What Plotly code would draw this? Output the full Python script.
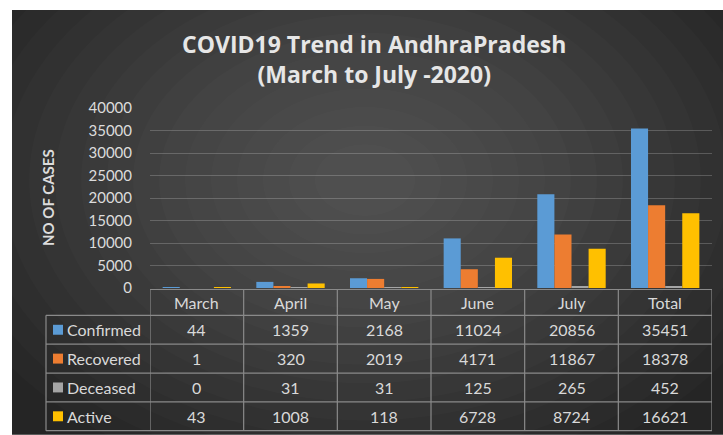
import plotly.graph_objects as go

categories = ["March", "April", "May", "June", "July", "Total"]
confirmed = [44, 1359, 2168, 11024, 20856, 35451]
recovered = [1, 320, 2019, 4171, 11867, 18378]
deceased = [0, 31, 31, 125, 265, 452]
active = [43, 1008, 118, 6728, 8724, 16621]
series_names = ["Confirmed", "Recovered", "Deceased", "Active"]
series_values = [confirmed, recovered, deceased, active]
series_colors = ["#5B9BD5", "#ED7D31", "#A5A5A5", "#FFC000"]
y_ticks = [0, 5000, 10000, 15000, 20000, 25000, 30000, 35000, 40000]

W, H = 723, 435
L, R, T, B = 150, 712, 107.5, 288.5
PW, PH = R - L, B - T


def xp(px):
    return (px - L) / PW


def yp(py):
    return (B - py) / PH


fig = go.Figure()
for name, vals, col in zip(series_names, series_values, series_colors):
    fig.add_trace(go.Bar(x=categories, y=vals, name=name, marker=dict(color=col, line=dict(width=0))))

shapes = []
# dark background with soft radial light
shapes.append(dict(type="rect", xref="paper", yref="paper", x0=xp(12), x1=xp(723), y0=yp(9), y1=yp(436),
                   fillcolor="#252525", line=dict(width=0), layer="below"))
cx, cy = 365, 180
for i in range(16):
    rx = 440 - i * 26
    ry = rx * 0.72
    shapes.append(dict(type="circle", xref="paper", yref="paper",
                       x0=xp(cx - rx), x1=xp(cx + rx), y0=yp(cy + ry), y1=yp(cy - ry),
                       fillcolor="rgba(255,255,255,0.014)", line=dict(width=0), layer="below"))
# cover outside margin white (left and top strips)
shapes.append(dict(type="rect", xref="paper", yref="paper", x0=xp(-5), x1=xp(12), y0=yp(-5), y1=yp(440),
                   fillcolor="white", line=dict(width=0), layer="below"))
shapes.append(dict(type="rect", xref="paper", yref="paper", x0=xp(-5), x1=xp(730), y0=yp(-5), y1=yp(9),
                   fillcolor="white", line=dict(width=0), layer="below"))

# table lines
tc = "#8a8a8a"
row_lines = [290, 316, 345, 374, 403, 432]
for k, yy in enumerate(row_lines):
    x0 = L if k == 0 else 46
    shapes.append(dict(type="line", xref="paper", yref="paper", x0=xp(x0), x1=xp(R), y0=yp(yy), y1=yp(yy),
                       line=dict(color=tc, width=1.2), layer="above"))
for i in range(len(categories) + 1):
    shapes.append(dict(type="line", xref="x", yref="paper", x0=i - 0.5, x1=i - 0.5, y0=yp(290), y1=yp(432),
                       line=dict(color=tc, width=1.2), layer="above"))
shapes.append(dict(type="line", xref="paper", yref="paper", x0=xp(46), x1=xp(46), y0=yp(316), y1=yp(432),
                   line=dict(color=tc, width=1.2), layer="above"))

annotations = []
txt = "#d9d9d9"
tfont = dict(family="Lato, Calibri, sans-serif", size=16, color=txt)
for c in categories:
    annotations.append(dict(xref="x", yref="paper", x=c, y=yp(303), text=c, showarrow=False, font=tfont,
                            xanchor="center", yanchor="middle"))
row_centers = [330.5, 359.5, 388.5, 417.5]
for name, vals, col, yc in zip(series_names, series_values, series_colors, row_centers):
    shapes.append(dict(type="rect", xref="paper", yref="paper", x0=xp(53), x1=xp(63), y0=yp(yc + 5), y1=yp(yc - 5),
                       fillcolor=col, line=dict(width=0), layer="above"))
    annotations.append(dict(xref="paper", yref="paper", x=xp(65), y=yp(yc), text=name, showarrow=False,
                            font=tfont, xanchor="left", yanchor="middle"))
    for c, v in zip(categories, vals):
        annotations.append(dict(xref="x", yref="paper", x=c, y=yp(yc), text=str(v), showarrow=False,
                                font=tfont, xanchor="center", yanchor="middle"))

# title
annotations.append(dict(xref="paper", yref="paper", x=xp(374), y=yp(58),
                        text="<b>COVID19 Trend in AndhraPradesh</b><br><b>(March to July -2020)</b>",
                        showarrow=False, font=dict(family="Open Sans, sans-serif", size=23, color="#e6e6e6"),
                        xanchor="center", yanchor="middle", align="center"))
# y axis title
annotations.append(dict(xref="paper", yref="paper", x=xp(48), y=yp(198), text="<b>NO OF CASES</b>",
                        textangle=-90, showarrow=False,
                        font=dict(family="Lato, Calibri, sans-serif", size=15, color="#dcdcdc"),
                        xanchor="center", yanchor="middle"))

fig.update_layout(
    width=W, height=H,
    margin=dict(l=L, r=W - R, t=T, b=H - B, pad=0),
    paper_bgcolor="white", plot_bgcolor="rgba(0,0,0,0)",
    barmode="group", bargap=0.27, bargroupgap=0,
    showlegend=False,
    shapes=shapes, annotations=annotations,
    xaxis=dict(range=[-0.5, 5.5], showticklabels=False, showgrid=False, zeroline=False, showline=False,
               ticks="", fixedrange=True),
    yaxis=dict(range=[0, 40000], tickvals=y_ticks, ticktext=[str(v) for v in y_ticks],
               showgrid=True, gridcolor="rgba(255,255,255,0.2)", gridwidth=1, zeroline=False, showline=False,
               ticks="", ticklabelstandoff=17,
               tickfont=dict(family="Lato, Calibri, sans-serif", size=15, color="#dcdcdc"), fixedrange=True),
)

fig.write_html("out.html", config={"displayModeBar": False},
               post_script="document.body.style.margin='0';document.body.style.padding='0';")
